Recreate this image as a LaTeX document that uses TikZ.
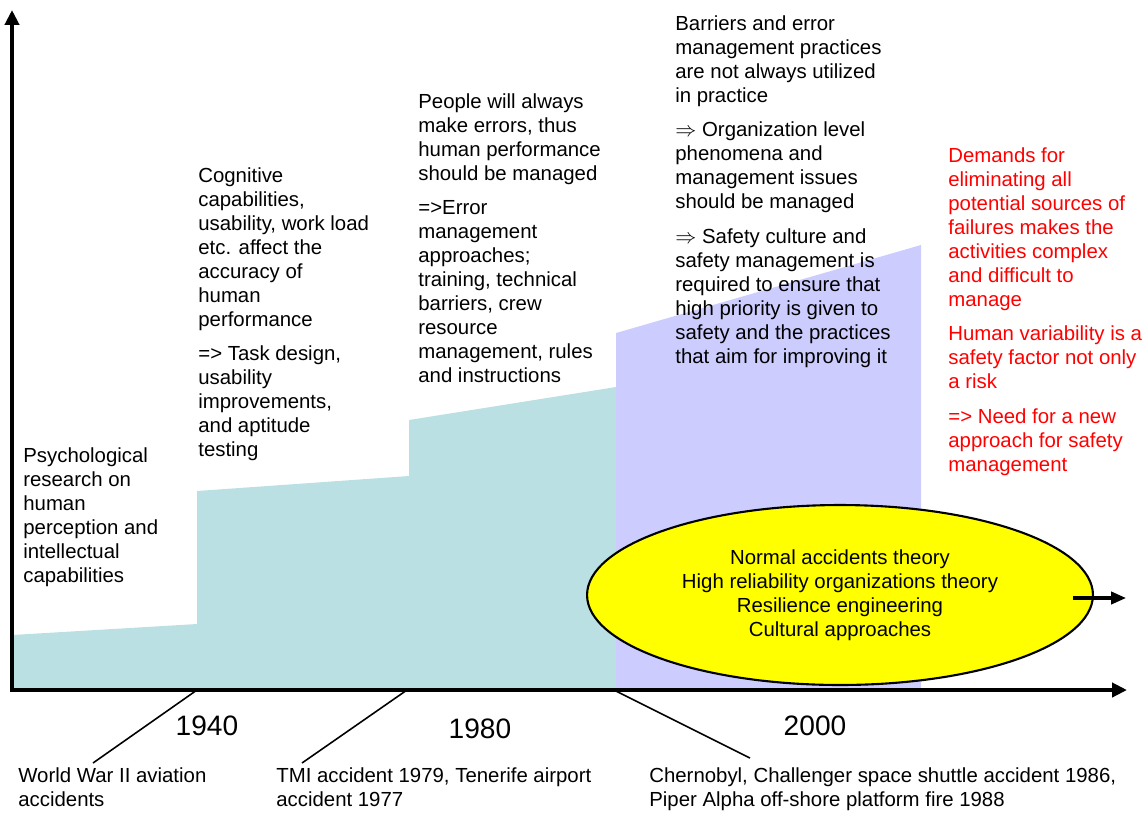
\documentclass[tikz,border=0pt]{standalone}
\usepackage{fontspec}
\setmainfont{Liberation Sans}
\usetikzlibrary{arrows.meta,positioning,shapes.geometric}
\definecolor{cteal}{RGB}{187,224,227}
\definecolor{clav}{RGB}{204,204,255}
\definecolor{cred}{RGB}{255,0,0}
\definecolor{cyel}{RGB}{255,255,0}
\newcommand{\txt}{\fontsize{11.6}{13.66}\selectfont}
\tikzset{
  para/.style={anchor=north west,align=left,inner sep=0pt,font=\txt,
    execute at begin node=\strut,execute at end node=\strut},
  redpara/.style={para,text=cred},
  year/.style={anchor=base,inner sep=0pt,font=\fontsize{16}{19}\selectfont},
  % axes and connectors
  axis/.style={line width=2.2pt,
    {Triangle[length=8.5pt,width=8pt]}-{Triangle[length=8.5pt,width=8pt]}},
  tick/.style={line width=0.9pt},
  theory/.style={ellipse,draw,line width=1.2pt,fill=cyel,
    minimum width=10.12cm,minimum height=3.6cm,align=center,inner sep=0pt,
    font=\txt}
}

\begin{document}
\begin{tikzpicture}[x=0.02cm,y=-0.02cm,node distance=0.24cm]
  \useasboundingbox (0,0) rectangle (1145,812);
  % eras
  \fill[cteal] (12,690) -- (12,635) -- (197,624) -- (197,491) -- (409,476)
    -- (409,420) -- (616,387) -- (616,690) -- cycle;
  \fill[clav] (616,690) -- (616,333) -- (921,245) -- (921,690) -- cycle;

  \coordinate (origin) at (12,690);
  \coordinate (ytip) at (12,10);
  \coordinate (xtip) at (1127,690);
  \coordinate (t1940) at (197,690);
  \coordinate (t1980) at (407,690);
  \coordinate (t2000) at (616,691);
  \draw[axis] (ytip) -- (origin) -- (xtip);

  \node[para] (psy) at (23,447) {Psychological\\research on\\human\\perception and\\intellectual\\capabilities};

  \node[para] (cog) at (198,167) {Cognitive\\capabilities,\\usability, work load\\etc. affect the\\accuracy of\\human\\performance};
  \node[para, below=of cog.south west, anchor=north west] (task) {=> Task design,\\usability\\improvements,\\and aptitude\\testing};

  \node[para] (err) at (418,93) {People will always\\make errors, thus\\human performance\\should be managed};
  \node[para, below=of err.south west, anchor=north west] (erm) {=>Error\\management\\approaches;\\training, technical\\barriers, crew\\resource\\management, rules\\and instructions};

  \node[para] (bar) at (675,15) {Barriers and error\\management practices\\are not always utilized\\in practice};
  \node[para, below=of bar.south west, anchor=north west] (org) {$\Rightarrow$ Organization level\\phenomena and\\management issues\\should be managed};
  \node[para, below=of org.south west, anchor=north west] (cult) {$\Rightarrow$ Safety culture and\\safety management is\\required to ensure that\\high priority is given to\\safety and the practices\\that aim for improving it};

  \node[redpara] (dem) at (948,147) {Demands for\\eliminating all\\potential sources of\\failures makes the\\activities complex\\and difficult to\\manage};
  \node[redpara, below=of dem.south west, anchor=north west] (var) {Human variability is a\\safety factor not only\\a risk};
  \node[redpara, below=of var.south west, anchor=north west] (need) {=> Need for a new\\approach for safety\\management};

  \node[theory] (ell) at (840,595) {Normal accidents theory\\High reliability organizations theory\\Resilience engineering\\Cultural approaches};
  \draw[line width=1.8pt,-{Triangle[length=8.5pt,width=7pt]}]
    ([xshift=-0.42cm,yshift=-0.06cm]ell.east) -- ++(53,0);

  \node[year] (y1940) at (207,735) {1940};
  \node[year] (y1980) at (480,738) {1980};
  \node[year] (y2000) at (815,735) {2000};

  \node[para] (ww) at (18,767) {World War II aviation\\accidents};
  \node[para] (tmi) at (276,767) {TMI accident 1979, Tenerife airport\\accident 1977};
  \node[para] (che) at (649,767) {Chernobyl, Challenger space shuttle accident 1986,\\Piper Alpha off-shore platform fire 1988};
  \draw[tick] (t1940) -- ([xshift=1.5cm,yshift=0.08cm]ww.north west);
  \draw[tick] (t1980) -- ([xshift=0.52cm,yshift=0.08cm]tmi.north west);
  \draw[tick] (t2000) -- ([xshift=2.02cm,yshift=0.18cm]che.north west);
\end{tikzpicture}
\end{document}
